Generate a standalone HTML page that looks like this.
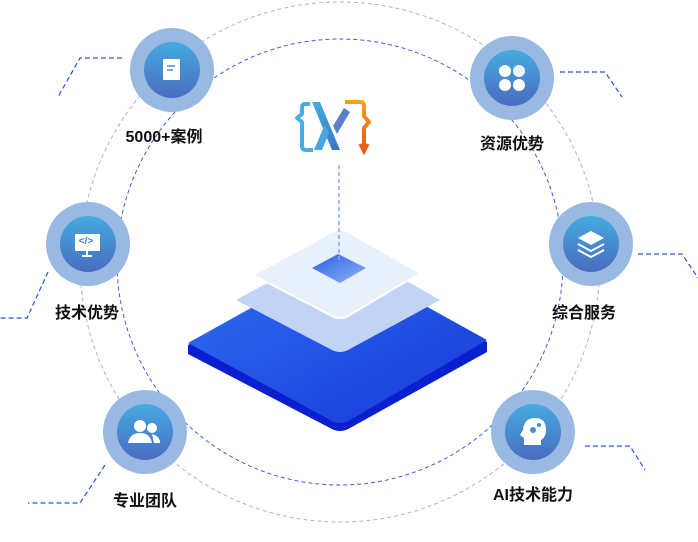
<!DOCTYPE html>
<html><head><meta charset="utf-8"><style>
html,body{margin:0;padding:0;background:#fff;}
svg{display:block;}
text{font-family:"Liberation Sans","Noto Sans CJK SC",sans-serif;font-weight:bold;font-size:16px;fill:#111;text-anchor:middle;}
</style></head><body>
<svg width="698" height="542" viewBox="0 0 698 542" xmlns="http://www.w3.org/2000/svg">
<defs>
<linearGradient id="ng" x1="0" y1="0" x2="0" y2="1"><stop offset="0" stop-color="#45abe0"/><stop offset="1" stop-color="#4a6cc0"/></linearGradient>
<linearGradient id="bg1" x1="0" y1="0" x2="1" y2="1"><stop offset="0" stop-color="#2f6ff0"/><stop offset="1" stop-color="#1638d8"/></linearGradient>
<linearGradient id="sq" x1="0" y1="0" x2="1" y2="1"><stop offset="0" stop-color="#2a5fe0"/><stop offset="1" stop-color="#8fb4f5"/></linearGradient>
<linearGradient id="lg1" x1="0" y1="0" x2="1" y2="1"><stop offset="0" stop-color="#45b0e5"/><stop offset="1" stop-color="#3a70c8"/></linearGradient>
<linearGradient id="lg2" x1="0" y1="0" x2="0" y2="1"><stop offset="0" stop-color="#f0a020"/><stop offset="1" stop-color="#e85a15"/></linearGradient>
</defs>
<circle cx="340" cy="262" r="260" fill="none" stroke="#aab0ec" stroke-width="1" stroke-dasharray="4 3"/>
<circle cx="340" cy="262" r="223" fill="none" stroke="#3a5ee0" stroke-width="1" stroke-dasharray="4 3"/>
<g fill="none" stroke="#2a55e0" stroke-width="1.2" stroke-dasharray="5 3">
<path d="M122 58 H80 L58 97"/>
<path d="M48 272 L27 318 H0"/>
<path d="M105 465 L80 503 H28"/>
<path d="M560 72 H605 L622 97"/>
<path d="M638 254 H682 L698 278"/>
<path d="M585 446 H630 L645 470"/>
</g>
<!-- platform -->
<path d="M188 345 L330 267 Q340 262 350 267 L487 342 L487 352 L350 428 Q340 434 330 428 L188 354 Z" fill="#0a1fd0"/>
<path d="M188 343 L330 264 Q340 259 350 264 L487 340 L350 420 Q340 426 330 420 Z" fill="url(#bg1)"/>
<path d="M236 300 L332 248 Q340 244 348 248 L440 300 L348 350 Q340 354 332 350 Z" fill="#c3d3f3"/>
<path d="M253 275 L332 232 Q340 228 348 232 L420 273 L348 316 Q340 320 332 316 Z" fill="#e8f0fc" stroke="#fff" stroke-width="2"/>
<path d="M312 268 L338 254 L366 268 L340 283 Z" fill="url(#sq)"/>
<line x1="339" y1="165" x2="339" y2="260" stroke="#8aa6f0" stroke-width="1.5" stroke-dasharray="4 3"/>
<!-- logo -->
<path d="M310 104 H305 Q302 104 302 108 V114 L297 118 L302 122 V146 Q302 150 306 150 H313" fill="none" stroke="#45aee5" stroke-width="4" stroke-linejoin="round"/>
<path d="M312 102 L320 102 L340 150 L332 150 Z" fill="url(#lg1)"/>
<path d="M314 150 L325 124 L329 133 L322 150 Z" fill="#4aa5e0"/>
<path d="M345 102 H360 Q364 102 364 106 V116 L369 122 L364 128 V148" fill="none" stroke="url(#lg2)" stroke-width="4" stroke-linejoin="round"/>
<path d="M360 144 L364 152 L368 144" fill="none" stroke="#e85a15" stroke-width="3"/>
<path d="M333 126 L344 108 L350 112 L337 134 Z" fill="#5a7fcc"/>
<!-- nodes -->
<g>
<circle cx="172" cy="70" r="42" fill="#9ab9e2"/><circle cx="172" cy="70" r="28" fill="url(#ng)"/>
<rect x="163" y="59" width="17" height="21" rx="1" fill="#fff"/><line x1="167" y1="66" x2="175" y2="66" stroke="#4a8ed8" stroke-width="1.5"/><line x1="167" y1="70" x2="173" y2="70" stroke="#4a8ed8" stroke-width="1.5"/>
<text x="164" y="142">5000+案例</text>
<circle cx="88" cy="244" r="42" fill="#9ab9e2"/><circle cx="88" cy="244" r="28" fill="url(#ng)"/>
<rect x="75" y="234" width="25" height="17" rx="1" fill="#fff"/><line x1="87" y1="251" x2="87" y2="256" stroke="#fff" stroke-width="2"/><line x1="82" y1="256" x2="92" y2="256" stroke="#fff" stroke-width="2"/>
<text x="86" y="244" style="font-size:10px;fill:#3b7fd0">&lt;/&gt;</text>
<text x="87" y="318">技术优势</text>
<circle cx="145" cy="432" r="42" fill="#9ab9e2"/><circle cx="145" cy="432" r="28" fill="url(#ng)"/>
<circle cx="140" cy="426" r="6" fill="#fff"/><path d="M128 443 Q130 433 140 433 Q150 433 152 443 Z" fill="#fff"/><circle cx="152" cy="428" r="5" fill="#fff"/><path d="M152 434 Q160 436 160 443 H154" fill="#fff"/>
<text x="145" y="506">专业团队</text>
<circle cx="512" cy="78" r="42" fill="#9ab9e2"/><circle cx="512" cy="78" r="28" fill="url(#ng)"/>
<circle cx="505" cy="71" r="6" fill="#fff"/><circle cx="519" cy="71" r="6" fill="#fff" opacity="0.9"/><circle cx="505" cy="85" r="6" fill="#fff"/><circle cx="519" cy="85" r="6" fill="#fff"/>
<text x="512" y="149">资源优势</text>
<circle cx="591" cy="244" r="42" fill="#9ab9e2"/><circle cx="591" cy="244" r="28" fill="url(#ng)"/>
<path d="M578 238 L591 231 L604 238 L591 245 Z" fill="#fff"/><path d="M578 244 L591 251 L604 244 M578 250 L591 257 L604 250" fill="none" stroke="#fff" stroke-width="2"/>
<text x="584" y="318">综合服务</text>
<circle cx="533" cy="432" r="42" fill="#9ab9e2"/><circle cx="533" cy="432" r="28" fill="url(#ng)"/>
<path d="M524 445 V438 L520 435 L523 430 Q524 418 535 418 Q546 418 546 430 Q546 437 541 440 V445 Z" fill="#fff"/><circle cx="533" cy="430" r="3" fill="#4a8ed8"/><circle cx="539" cy="425" r="2" fill="#4a8ed8"/>
<text x="533" y="500">AI技术能力</text>
</g>
</svg>
</body></html>
